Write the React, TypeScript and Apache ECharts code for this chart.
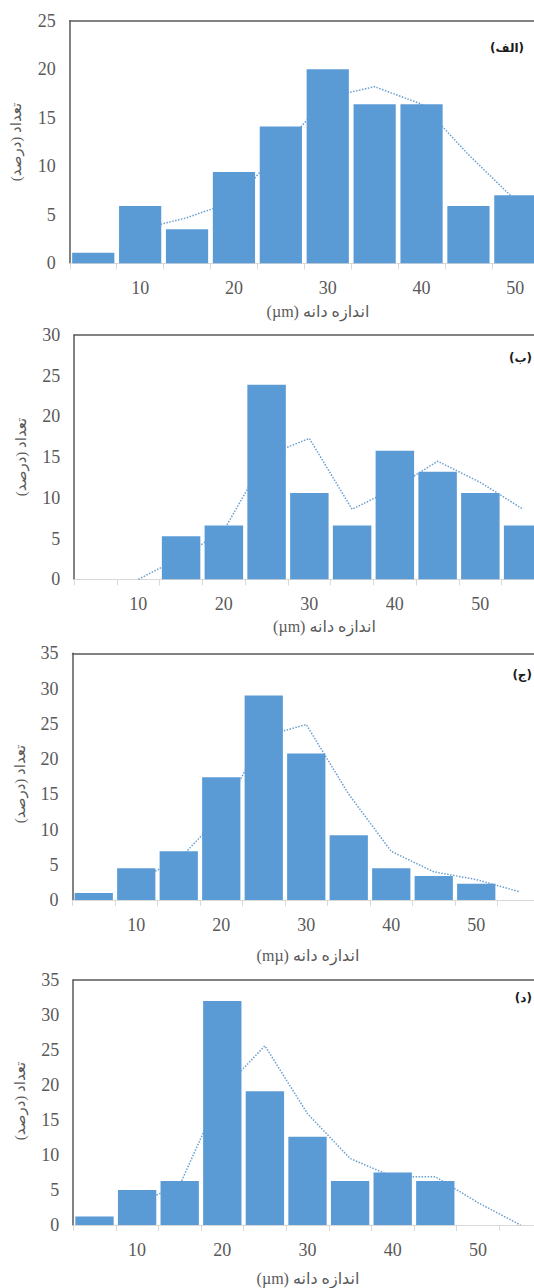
import React, { useEffect, useRef } from 'react';
import * as echarts from 'echarts';

// Panel (الف)
const categoriesA = ['5', '10', '15', '20', '25', '30', '35', '40', '45', '50'];
const barsA = [1.1, 5.9, 3.5, 9.4, 14.1, 20.0, 16.4, 16.4, 5.9, 7.0];
const trendA = [null, 3.5, 4.7, 6.4, 11.8, 17.1, 18.2, 16.4, 11.2, 6.5];

// Panel (ب)
const categoriesB = ['5', '10', '15', '20', '25', '30', '35', '40', '45', '50', '55'];
const barsB = [0, 0, 5.3, 6.6, 23.9, 10.6, 6.6, 15.8, 13.2, 10.6, 6.6];
const trendB = [null, 0, 2.7, 6.0, 15.2, 17.3, 8.6, 11.2, 14.5, 11.9, 8.6];

// Panel (ج)
const categoriesC = ['5', '10', '15', '20', '25', '30', '35', '40', '45', '50', '55'];
const barsC = [1.0, 4.5, 6.9, 17.4, 29.0, 20.8, 9.2, 4.5, 3.4, 2.3, 0];
const trendC = [null, 2.8, 5.7, 12.1, 23.2, 24.9, 15.0, 6.9, 4.0, 2.9, 1.2];

// Panel (د)
const categoriesD = ['5', '10', '15', '20', '25', '30', '35', '40', '45', '50', '55'];
const barsD = [1.2, 5.0, 6.3, 32.0, 19.1, 12.6, 6.3, 7.5, 6.3, 0, 0];
const trendD = [null, 3.1, 5.7, 19.2, 25.6, 15.9, 9.5, 6.9, 6.9, 3.2, 0];

const yMaxes = [25, 30, 35, 35];
const panelLabels = ['(الف)', '(ب)', '(ج)', '(د)'];
const xTitles = ['(µm) اندازه دانه', '(µm) اندازه دانه', '(mµ) اندازه دانه', '(µm) اندازه دانه'];
const yTitle = 'تعداد (درصد)\u200F';

const FONT = "'Liberation Serif', 'DejaVu Sans', serif";
const BLUE = '#5b9bd5';
const DARK = '#595959';
const LIGHT = '#d9d9d9';

export default function App() {
  const ref = useRef<HTMLDivElement>(null);

  useEffect(() => {
    if (!ref.current) return;
    const chart = echarts.init(ref.current, undefined, { renderer: 'svg' });

    const cats = [categoriesA, categoriesB, categoriesC, categoriesD];
    const bars = [barsA, barsB, barsC, barsD];
    const trends = [trendA, trendB, trendC, trendD];

    const grids = [
      { left: 69.8, top: 20.7, width: 469, height: 242.6 },
      { left: 74.2, top: 335, width: 470.3, height: 244.3 },
      { left: 72.5, top: 653.3, width: 467.5, height: 246.7 },
      { left: 73.2, top: 980, width: 468.6, height: 245 },
    ];
    const labelPos = [
      [524, 48],
      [532, 358],
      [532, 675],
      [532, 998],
    ];
    const xTitlePos = [
      [318, 311.7],
      [324.5, 626.7],
      [308, 955],
      [308, 1278],
    ];
    const yTitlePos = [
      [16, 142],
      [21, 457],
      [20, 784],
      [20, 1101],
    ];

    const xAxis: any[] = [];
    const yAxis: any[] = [];
    const series: any[] = [];
    const graphic: any[] = [];

    grids.forEach((g, i) => {
      xAxis.push({
        type: 'category',
        gridIndex: i,
        data: cats[i],
        boundaryGap: true,
        axisLine: { show: true, lineStyle: { color: LIGHT, width: 1 } },
        axisTick: { show: true, interval: 0, length: 6, lineStyle: { color: LIGHT } },
        axisLabel: {
          interval: (_idx: number, val: string) => Number(val) % 10 === 0,
          margin: 16,
          fontSize: 18,
          fontFamily: FONT,
          color: DARK,
        },
      });
      xAxis.push({
        type: 'category',
        gridIndex: i,
        position: 'top',
        data: cats[i],
        axisLine: { show: true, lineStyle: { color: DARK, width: 1.5 } },
        axisTick: { show: false },
        axisLabel: { show: false },
      });
      yAxis.push({
        type: 'value',
        gridIndex: i,
        min: 0,
        max: yMaxes[i],
        interval: 5,
        axisLine: { show: true, lineStyle: { color: DARK, width: 1.5 } },
        axisTick: { show: false },
        splitLine: { show: false },
        axisLabel: { margin: 14, fontSize: 18, fontFamily: FONT, color: DARK },
      });
      series.push({
        type: 'line',
        xAxisIndex: 2 * i,
        yAxisIndex: i,
        data: trends[i],
        symbol: 'none',
        z: 2,
        lineStyle: { type: 'dotted', width: 1.5, color: '#6a9fcf' },
      });
      series.push({
        type: 'bar',
        xAxisIndex: 2 * i,
        yAxisIndex: i,
        data: bars[i],
        barCategoryGap: '10%',
        z: 3,
        itemStyle: { color: BLUE },
      });
      graphic.push({
        type: 'text',
        x: labelPos[i][0],
        y: labelPos[i][1],
        style: {
          text: panelLabels[i],
          font: "bold 12px 'DejaVu Sans', sans-serif",
          fill: '#1a1a1a',
          align: 'right',
          verticalAlign: 'middle',
        },
      });
      graphic.push({
        type: 'text',
        x: xTitlePos[i][0],
        y: xTitlePos[i][1],
        style: {
          text: xTitles[i],
          font: `16px ${FONT}`,
          fill: DARK,
          align: 'center',
          verticalAlign: 'middle',
        },
      });
      graphic.push({
        type: 'text',
        x: yTitlePos[i][0],
        y: yTitlePos[i][1],
        rotation: Math.PI / 2,
        style: {
          text: yTitle,
          font: `15px ${FONT}`,
          fill: DARK,
          align: 'center',
          verticalAlign: 'middle',
        },
      });
    });

    chart.setOption({
      animation: false,
      backgroundColor: '#ffffff',
      grid: grids.map((g) => ({ ...g, containLabel: false })),
      xAxis,
      yAxis,
      series,
      graphic,
    });

    return () => chart.dispose();
  }, []);

  return (
    <div
      style={{
        position: 'fixed',
        left: 0,
        top: 0,
        width: 534,
        height: 1288,
        overflow: 'hidden',
        background: '#fff',
      }}
    >
      <div ref={ref} style={{ width: 600, height: 1288 }} />
    </div>
  );
}
